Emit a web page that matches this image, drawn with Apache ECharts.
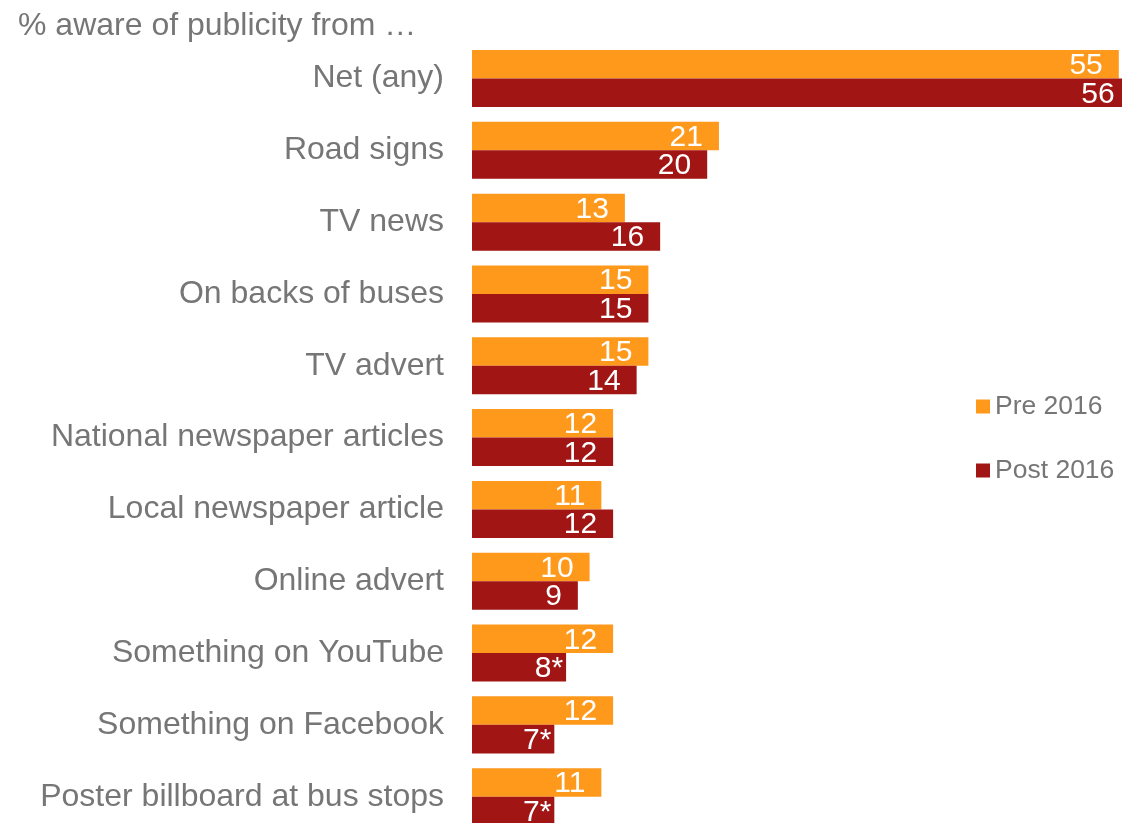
<!DOCTYPE html>
<html>
<head>
<meta charset="utf-8">
<script src="https://cdn.jsdelivr.net/npm/echarts@6/dist/echarts.min.js"></script>
<style>
  html, body { margin: 0; padding: 0; background: #ffffff; }
  #chart { width: 1122px; height: 823px; }
</style>
</head>
<body>
<div id="chart"></div>
<script>
// Awareness of publicity, by source (%)
const categories = [
  'Net (any)',
  'Road signs',
  'TV news',
  'On backs of buses',
  'TV advert',
  'National newspaper articles',
  'Local newspaper article',
  'Online advert',
  'Something on YouTube',
  'Something on Facebook',
  'Poster billboard at bus stops'
];
const pre2016 = [55, 21, 13, 15, 15, 12, 11, 10, 12, 12, 11];
const post2016 = [56, 20, 16, 15, 14, 12, 12, 9, 8, 7, 7];
// '*' marks a significant change vs. the earlier wave
const postNotes = ['', '', '', '', '', '', '', '', '*', '*', '*'];
const seriesNames = ['Pre 2016', 'Post 2016'];
const titleText = '% aware of publicity from \u2026';

const FONT = '"Liberation Sans", Arial, sans-serif';
const GREY = '#767676';
const ORANGE = '#FF991C';
const DARKRED = '#A11515';

const chart = echarts.init(document.getElementById('chart'), null, { renderer: 'canvas' });

const valueLabel = {
  show: true,
  position: 'insideRight',
  distance: 16,
  offset: [0, 1.5],
  color: '#ffffff',
  fontFamily: FONT,
  fontSize: 30
};

// starred values keep the number aligned and let the asterisk hang to the right
const postData = post2016.map((v, i) => {
  const item = { value: v };
  if (postNotes[i]) {
    item.label = { distance: 3 };
  }
  return item;
});

chart.setOption({
  animation: false,
  textStyle: { fontFamily: FONT },
  title: {
    text: titleText,
    left: 13,
    top: 5,
    textStyle: { color: GREY, fontSize: 32, fontWeight: 'normal', fontFamily: FONT }
  },
  legend: {
    orient: 'vertical',
    left: 976,
    top: 393,
    padding: 0,
    itemWidth: 14,
    itemHeight: 14,
    itemGap: 37,
    icon: 'rect',
    data: seriesNames,
    textStyle: { color: GREY, fontSize: 26.5, fontFamily: FONT }
  },
  grid: {
    left: 472,
    top: 42.6,
    height: 790,
    width: 705.6,
    outerBoundsMode: 'none',
    containLabel: false
  },
  xAxis: {
    type: 'value',
    min: 0,
    max: 60,
    show: false
  },
  yAxis: {
    type: 'category',
    inverse: true,
    data: categories,
    axisLine: { show: false },
    axisTick: { show: false },
    axisLabel: {
      margin: 28,
      color: GREY,
      fontSize: 32,
      fontFamily: FONT
    }
  },
  series: [
    {
      name: seriesNames[0],
      type: 'bar',
      data: pre2016,
      barGap: '0%',
      barCategoryGap: '20.6%',
      itemStyle: { color: ORANGE },
      label: valueLabel
    },
    {
      name: seriesNames[1],
      type: 'bar',
      data: postData,
      barGap: '0%',
      barCategoryGap: '20.6%',
      itemStyle: { color: DARKRED },
      label: Object.assign({}, valueLabel, {
        formatter: p => p.value + postNotes[p.dataIndex]
      })
    }
  ]
});
</script>
</body>
</html>
